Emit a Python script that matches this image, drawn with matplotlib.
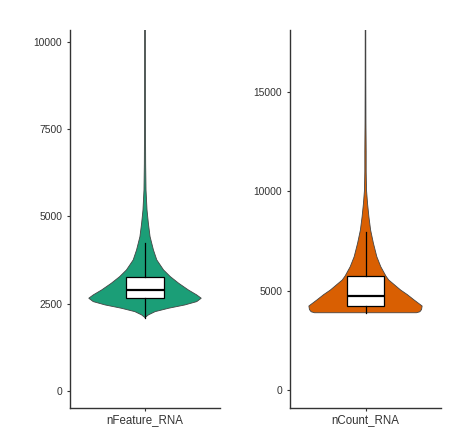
import numpy as np
import matplotlib
matplotlib.use("Agg")
import matplotlib.pyplot as plt

plt.rcParams["font.family"] = ["Liberation Sans", "DejaVu Sans"]

# violin profiles: value levels and relative half-widths
feature_levels = [2100, 2177, 2271, 2368, 2463, 2558, 2655, 2750, 2893, 3083, 3274,
                  3465, 3752, 4038, 4420, 4803, 5184, 5757, 6500, 7500, 8500, 10600]
feature_width = [0, 0.06, 0.18, 0.42, 0.71, 0.92, 1.0, 0.92, 0.77, 0.60, 0.45,
                 0.33, 0.21, 0.15, 0.09, 0.06, 0.036, 0.018, 0.012, 0.009, 0.007, 0.005]
count_levels = [3890, 3940, 4050, 4230, 4530, 4800, 5035, 5540, 5740, 6208, 6712,
                7386, 8056, 8726, 9400, 10070, 11000, 12000, 13500, 15500, 18600]
count_width = [0.90, 0.96, 0.99, 1.0, 0.86, 0.74, 0.62, 0.41, 0.36, 0.27, 0.20,
               0.14, 0.09, 0.06, 0.036, 0.018, 0.012, 0.012, 0.008, 0.006, 0.005]

# box stats: low whisker, q1, median, q3, high whisker
feature_box = [2100, 2655, 2893, 3274, 4248]
count_box = [3893, 4230, 4733, 5740, 7970]

names = ["nFeature_RNA", "nCount_RNA"]
colors = ["#1B9E77", "#D95F02"]
yticks = [[0, 2500, 5000, 7500, 10000], [0, 5000, 10000, 15000]]
ylims = [(-490, 10340), (-906, 18126)]

fig = plt.figure(figsize=(4.69, 4.43), dpi=100)
axes = [fig.add_axes([70 / 469, 35 / 443, 150 / 469, 378 / 443]),
        fig.add_axes([290 / 469, 35 / 443, 151 / 469, 378 / 443])]

panels = [(feature_levels, feature_width, feature_box),
          (count_levels, count_width, count_box)]

for ax, (lev, wid, box), name, col, ticks, lim in zip(axes, panels, names, colors,
                                                      yticks, ylims):
    lev = np.array(lev, dtype=float)
    wid = np.array(wid) * 0.45
    xs = np.concatenate([1 - wid, (1 + wid)[::-1]])
    ys = np.concatenate([lev, lev[::-1]])
    ax.fill(xs, ys, facecolor=col, edgecolor="#444444", linewidth=0.6, zorder=2)

    stats = [dict(whislo=box[0], q1=box[1], med=box[2], q3=box[3], whishi=box[4])]
    ax.bxp(stats, positions=[1], widths=0.3, showfliers=False, showcaps=False,
           patch_artist=True,
           boxprops=dict(facecolor="white", edgecolor="black", linewidth=0.9),
           medianprops=dict(color="black", linewidth=1.6),
           whiskerprops=dict(color="black", linewidth=0.9),
           zorder=3)

    ax.set_ylim(*lim)
    ax.set_xlim(0.4, 1.6)
    ax.set_yticks(ticks)
    ax.set_xticks([1])
    ax.set_xticklabels([name])
    for s in ["top", "right"]:
        ax.spines[s].set_visible(False)
    for s in ["left", "bottom"]:
        ax.spines[s].set_color("#333333")
        ax.spines[s].set_linewidth(1.0)
    ax.tick_params(axis="y", labelsize=7.4, length=2.5, width=0.8, colors="#333333",
                   labelcolor="#333333", pad=3)
    ax.tick_params(axis="x", labelsize=8.3, length=2.5, width=0.8, colors="#333333",
                   labelcolor="#333333", pad=2)

fig.savefig("out.png", dpi=100)
